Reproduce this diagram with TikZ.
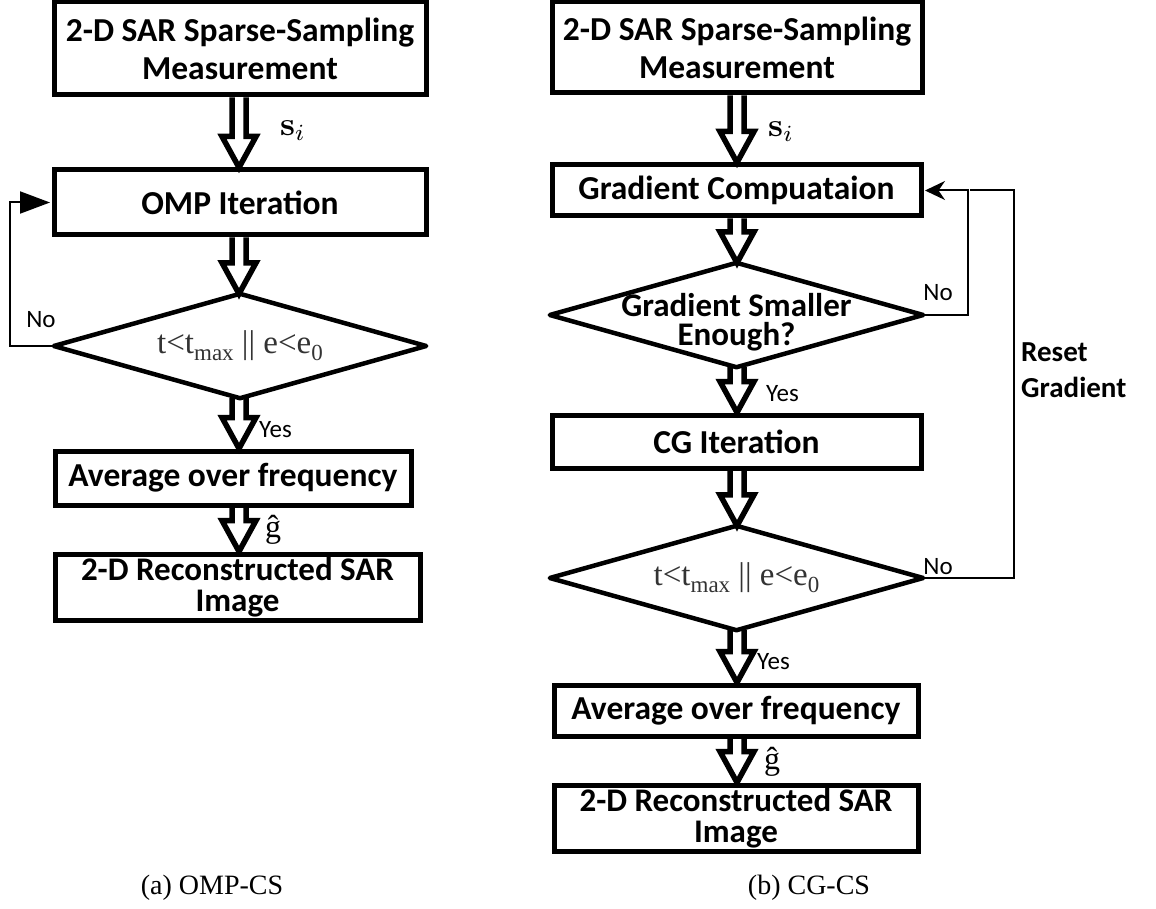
\documentclass[tikz,border=0pt]{standalone}
\usepackage[no-math]{fontspec}
\usepackage{graphicx}
\setmainfont{Liberation Serif}
\newfontfamily\boxfont{Carlito}
\usetikzlibrary{calc,arrows.meta}
\newcommand\lowsub[1]{\raisebox{-7pt}{\fontsize{23}{23}\selectfont #1}}
% hollow fat arrow: #1 start anchor, #2 end anchor, #3 column coordinate
\newcommand\fatarrow[3]{%
  \draw[fat] ($(#1 -| #3)+(-7,0)$) -- ($(#2 -| #3)+(-7,-31)$) -- ($(#2 -| #3)+(-17,-31)$)
    -- (#2 -| #3) -- ($(#2 -| #3)+(17,-31)$) -- ($(#2 -| #3)+(7,-31)$) -- ($(#1 -| #3)+(7,0)$);}
\begin{document}
\begin{tikzpicture}[x=1pt,y=-1pt,
  box/.style={draw, line width=5pt, inner sep=0pt, align=center,
    font=\boxfont\bfseries\fontsize{33.5}{38}\selectfont},
  tight/.style={font=\boxfont\bfseries\fontsize{33}{31}\selectfont},
  dec/.style={inner sep=0pt, align=center},
  dia/.style={line width=4.5pt, line join=round},
  cond/.style={font=\fontsize{33}{36}\selectfont, text=black!80},
  fat/.style={line width=5.5pt, line join=miter},
  loopline/.style={line width=2pt},
  lab/.style={font=\boxfont\fontsize{25}{28}\selectfont, inner sep=0pt},
  mathlab/.style={font=\fontsize{10}{12}\selectfont, inner sep=0pt},
  glab/.style={font=\fontsize{32}{32}\selectfont, inner sep=0pt},
  captext/.style={font=\fontsize{28}{30}\selectfont, inner sep=0pt, anchor=base}]
\useasboundingbox (0,0) rectangle (1156,909);

% ---------------- left: OMP-CS ----------------
\coordinate (cL) at (239,0);
\node[box, minimum width=372, minimum height=93] (b1L) at (240,48.5) {2-D SAR Sparse-Sampling\\Measurement};
\node[box, minimum width=372, minimum height=65] (b2L) at (240,202.5) {OMP Iteration};
\node[dec, cond, minimum width=372, minimum height=104] (dL) at (240,346) {t<t\lowsub{max} || e<e\lowsub{0}};
\draw[dia] (dL.north) -- (dL.east) -- (dL.south) -- (dL.west) -- cycle;
\node[box, minimum width=356, minimum height=54] (b3L) at (233,478) {Average over frequency};
\node[box, tight, minimum width=365, minimum height=66] (b4L) at (237.5,587) {2-D Reconstructed SAR\\Image};

\fatarrow{b1L.south}{b2L.north}{cL}
\fatarrow{b2L.south}{dL.north}{cL}
\fatarrow{dL.south}{b3L.north}{cL}
\fatarrow{b3L.south}{b4L.north}{cL}

\node[mathlab] (siL) at (293,131) {\scalebox{3.3}{$\mathbf{s}_i$}};
\node[lab, anchor=west] (yesL) at (259,430) {Yes};
\node[glab] (ghL) at (273,530) {ĝ};
\node[lab] (noL) at (41,320) {No};
\draw[loopline, -{Triangle[length=30pt,width=22pt]}] (dL.west) -- ++(-44,0) |- ($(b2L.west)+(-1.5,0)$);

% ---------------- right: CG-CS ----------------
\coordinate (cR) at (737,0);
\node[box, minimum width=370, minimum height=91] (b1R) at (737,47.5) {2-D SAR Sparse-Sampling\\Measurement};
\node[box, minimum width=369, minimum height=51] (b2R) at (736.5,190.5) {Gradient Compuataion};
\node[dec, minimum width=373, minimum height=104] (dR1) at (736.5,315) {};
\node[dec, font=\boxfont\bfseries\fontsize{33}{29}\selectfont] (dR1t) at (736.5,322) {Gradient Smaller\\Enough?};
\draw[dia] (dR1.north) -- (dR1.east) -- (dR1.south) -- (dR1.west) -- cycle;
\node[box, minimum width=369, minimum height=53] (b3R) at (736.5,441.5) {CG Iteration};
\node[dec, cond, minimum width=373, minimum height=104] (dR2) at (736.5,578) {t<t\lowsub{max} || e<e\lowsub{0}};
\draw[dia] (dR2.north) -- (dR2.east) -- (dR2.south) -- (dR2.west) -- cycle;
\node[box, minimum width=364, minimum height=51] (b4R) at (736,710.5) {Average over frequency};
\node[box, tight, minimum width=364, minimum height=66] (b5R) at (736,818) {2-D Reconstructed SAR\\Image};

\fatarrow{b1R.south}{b2R.north}{cR}
\fatarrow{b2R.south}{dR1.north}{cR}
\fatarrow{dR1.south}{b3R.north}{cR}
\fatarrow{b3R.south}{dR2.north}{cR}
\fatarrow{dR2.south}{b4R.north}{cR}
\fatarrow{b4R.south}{b5R.north}{cR}

\node[mathlab] (siR) at (781,132) {\scalebox{3.3}{$\mathbf{s}_i$}};
\node[lab, anchor=west] (yesR1) at (766,394) {Yes};
\node[lab, anchor=west] (yesR2) at (757,662) {Yes};
\node[glab] (ghR) at (772,762) {ĝ};
\node[lab] (noR1) at (938,293) {No};
\node[lab] (noR2) at (938,567) {No};
\node[lab, anchor=west, align=left, font=\boxfont\bfseries\fontsize{29}{36}\selectfont] (reset) at (1021,370) {Reset\\Gradient};

\draw[loopline, -{Stealth[length=20pt,width=19pt]}] (dR1.east) -- ++(45,0) |- ($(b2R.east)+(1.5,0)$);
\draw[loopline] (dR2.east) -- ++(91,0) |- ($(b2R.east)+(46,0)$);

% captions
\node[captext] (capA) at (212,894) {(a) OMP-CS};
\node[captext] (capB) at (809,894) {(b) CG-CS};
\end{tikzpicture}
\end{document}
